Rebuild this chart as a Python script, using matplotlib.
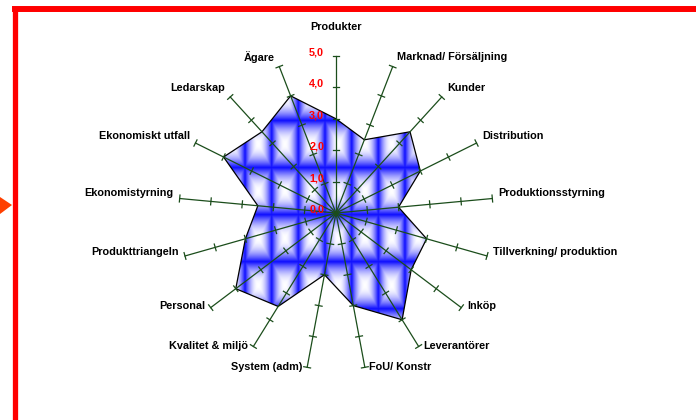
import numpy as np
import matplotlib
matplotlib.use('Agg')
import matplotlib.pyplot as plt
from matplotlib.patches import Polygon
from matplotlib.lines import Line2D

# data (clockwise from the top)
categories = ['Produkter', 'Marknad/ Försäljning', 'Kunder', 'Distribution',
              'Produktionsstyrning', 'Tillverkning/ produktion', 'Inköp',
              'Leverantörer', 'FoU/ Konstr', 'System (adm)', 'Kvalitet & miljö',
              'Personal', 'Produkttriangeln', 'Ekonomistyrning',
              'Ekonomiskt utfall', 'Ledarskap', 'Ägare']
values = [3.0, 2.5, 3.5, 3.0, 2.0, 3.0, 3.0, 4.0, 3.0, 2.0, 3.5, 4.0, 3.0, 2.5,
          4.0, 3.5, 4.0]
tick_values = [0, 1, 2, 3, 4, 5]
tick_labels = ['0,0', '1,0', '2,0', '3,0', '4,0', '5,0']

plt.rcParams['font.family'] = ['Liberation Sans', 'DejaVu Sans']

W, H = 696, 420
fig = plt.figure(figsize=(W / 100, H / 100), dpi=100)
ax = fig.add_axes([0, 0, 1, 1])

# one value unit = 31.4 px, centre of the web at (336, 213) px
px = 31.4
cx, cy = 336, 213
rmax = tick_values[-1]

green = '#1b4d1b'
n = len(categories)
ang = np.arange(n) * 2 * np.pi / n
sx, sy = np.sin(ang), np.cos(ang)
vals = np.array(values)

# tiled "from centre" gradient fill, clipped to the polygon
gx = np.linspace(-rmax, rmax, 900)
gy = np.linspace(-rmax, rmax, 900)
X, Y = np.meshgrid(gx, gy)
du = np.abs(((X + 0.35) / 0.85) % 1 - 0.5) * 2
dv = np.abs(((Y + 0.05) / 1.5) % 1 - 0.5) * 2
t = np.maximum(du, dv) ** 2.0
blue = np.array([0.05, 0.05, 1.0])
rgb = (1 - t)[..., None] * np.ones(3) + t[..., None] * blue
im = ax.imshow(rgb, extent=[-rmax, rmax, -rmax, rmax], origin='lower',
               interpolation='bilinear', zorder=1)
poly = Polygon(np.c_[vals * sx, vals * sy], closed=True, fc='none',
               ec='black', lw=0.9, zorder=2)
ax.add_patch(poly)
im.set_clip_path(poly)

# spokes with small cross ticks
h = 0.11
for i in range(n):
    ax.plot([0, rmax * sx[i]], [0, rmax * sy[i]], color=green, lw=0.9, zorder=3)
    for r in tick_values[1:]:
        ax.plot([r * sx[i] - h * sy[i], r * sx[i] + h * sy[i]],
                [r * sy[i] + h * sx[i], r * sy[i] - h * sx[i]],
                color=green, lw=0.9, zorder=3)

# red scale labels along the top spoke
for r, lbl in zip(tick_values, tick_labels):
    ax.annotate(lbl, (0, r), xytext=(-8.5, 2.5), textcoords='offset points',
                ha='right', va='center', color='red', fontsize=7.8,
                fontweight='bold', zorder=4)

# category labels
for i, name in enumerate(categories):
    end = (rmax * sx[i], rmax * sy[i])
    dy = (5 + 5 * sy[i]) * 0.72
    gap = (4 + 2 * abs(sx[i])) * 0.72
    if i == 0:
        ax.annotate(name, end, xytext=(0, 21), textcoords='offset points',
                    ha='center', va='center', fontsize=7.8, fontweight='bold')
    elif sx[i] > 0:
        ax.annotate(name, end, xytext=(gap, dy), textcoords='offset points',
                    ha='left', va='center', fontsize=7.8, fontweight='bold')
    else:
        ax.annotate(name, end, xytext=(-gap, dy), textcoords='offset points',
                    ha='right', va='center', fontsize=7.8, fontweight='bold')

ax.set_xlim(-cx / px, (W - cx) / px)
ax.set_ylim(-(H - cy) / px, cy / px)
ax.set_aspect('auto')
ax.axis('off')

# red frame and orange pointer
fig.add_artist(Line2D([14.5 / W, 14.5 / W], [0, 1 - 9 / H], transform=fig.transFigure,
                      color='red', lw=3.8, solid_capstyle='projecting'))
fig.add_artist(Line2D([14.5 / W, 1], [1 - 9 / H, 1 - 9 / H], transform=fig.transFigure,
                      color='red', lw=4.3, solid_capstyle='projecting'))
fig.add_artist(Polygon([[0, 1 - 197 / H], [12 / W, 1 - 205 / H], [0, 1 - 214 / H]],
                       closed=True, transform=fig.transFigure, fc='#ff4000', ec='none'))

fig.savefig('out.png', dpi=100)
